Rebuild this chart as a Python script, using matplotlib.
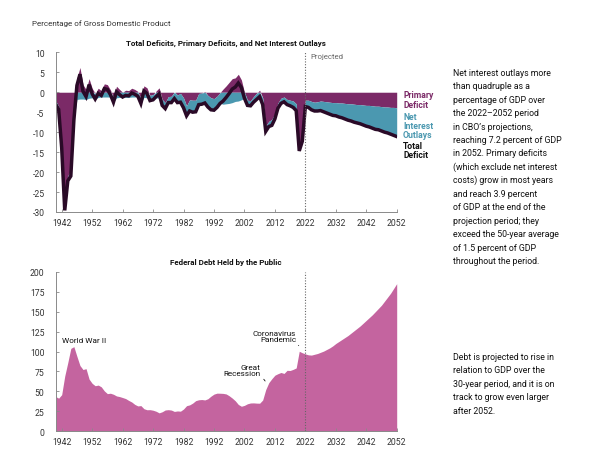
import matplotlib
matplotlib.use("Agg")
import matplotlib.pyplot as plt
import numpy as np

plt.rcParams['font.family'] = ['Roboto', 'DejaVu Sans']

# ---------------- data ----------------
years = list(range(1940, 2053))
total_deficit = [
    -3.0, -4.3, -13.9, -29.6, -22.2, -21.0, -7.0, 1.7, 4.5, 0.2,          # 1940-49
    -1.1, 1.9, -0.4, -1.7, -0.3, -0.8, 0.9, 0.7, -0.6, -2.5,              # 1950-59
    0.1, -0.6, -1.2, -0.8, -0.9, -0.2, -0.5, -1.0, -2.8, 0.3,             # 1960-69
    -0.3, -2.1, -1.9, -1.1, -0.4, -3.3, -4.1, -2.6, -2.6, -1.6,           # 1970-79
    -2.6, -2.5, -3.9, -5.9, -4.7, -5.0, -4.9, -3.1, -3.0, -2.7,           # 1980-89
    -3.7, -4.4, -4.5, -3.8, -2.8, -2.2, -1.3, -0.3, 0.8, 1.3,             # 1990-99
    2.3, 1.2, -1.5, -3.3, -3.4, -2.5, -1.8, -1.1, -3.1, -9.8,             # 2000-09
    -8.6, -8.3, -6.7, -4.0, -2.8, -2.4, -3.1, -3.4, -3.8, -4.6,           # 2010-19
    -14.7, -12.3,                                                         # 2020-21
    -3.6, -3.8, -4.4, -4.7, -4.7, -4.6, -4.9, -5.2, -5.5, -5.8,           # 2022-31
    -5.9, -6.2, -6.4, -6.7, -7.0, -7.2, -7.5, -7.7, -7.9, -8.2,           # 2032-41
    -8.5, -8.7, -9.0, -9.3, -9.4, -9.7, -10.0, -10.2, -10.5, -10.8,       # 2042-51
    -11.1,                                                                # 2052
]
net_interest = [
    0.9, 0.8, 0.7, 0.8, 1.2, 1.4, 1.8, 1.8, 1.7, 1.7,
    1.8, 1.5, 1.4, 1.4, 1.3, 1.2, 1.2, 1.2, 1.2, 1.2,
    1.4, 1.3, 1.2, 1.3, 1.3, 1.2, 1.2, 1.2, 1.2, 1.3,
    1.4, 1.3, 1.3, 1.4, 1.5, 1.5, 1.5, 1.5, 1.6, 1.7,
    1.9, 2.2, 2.5, 2.5, 2.8, 3.0, 2.9, 2.8, 2.8, 2.9,
    2.9, 3.0, 2.9, 2.8, 2.7, 3.0, 2.9, 2.8, 2.6, 2.3,
    2.2, 1.9, 1.5, 1.3, 1.3, 1.4, 1.6, 1.6, 1.7, 1.3,
    1.3, 1.5, 1.4, 1.3, 1.3, 1.2, 1.3, 1.4, 1.6, 1.7,
    1.6, 1.5,
    1.6, 1.8, 2.1, 2.2, 2.3, 2.4, 2.6, 2.8, 3.0, 3.2,
    3.3, 3.5, 3.7, 3.9, 4.1, 4.3, 4.5, 4.6, 4.8, 5.0,
    5.2, 5.4, 5.6, 5.8, 5.9, 6.1, 6.3, 6.5, 6.7, 7.0,
    7.2,
]
debt_held = [
    43.6, 41.5, 45.9, 69.2, 86.0, 103.9, 106.1, 93.9, 82.4, 77.4,
    78.5, 65.4, 60.1, 57.1, 57.9, 55.7, 50.6, 47.2, 47.7, 46.4,
    44.3, 43.5, 42.3, 41.0, 38.7, 36.7, 33.7, 31.8, 32.2, 28.3,
    27.0, 27.1, 26.4, 25.1, 23.1, 24.5, 26.7, 27.1, 26.6, 24.9,
    25.5, 25.2, 27.9, 32.1, 33.1, 35.3, 38.4, 39.5, 39.8, 39.3,
    40.8, 44.0, 46.6, 47.8, 47.7, 47.5, 46.8, 44.5, 41.6, 38.2,
    33.6, 31.4, 32.5, 34.5, 35.5, 35.6, 35.3, 35.2, 39.2, 52.3,
    60.9, 65.9, 70.3, 72.2, 73.7, 72.5, 76.4, 76.2, 77.6, 79.4,
    100.3, 98.4,
    97.0, 95.8, 95.5, 96.5, 97.5, 99.0, 100.5, 102.5, 104.5, 107.0,
    110.0, 112.5, 115.0, 117.5, 120.0, 123.0, 126.0, 129.0, 132.0, 135.5,
    139.0, 142.5, 146.0, 150.0, 154.0, 158.0, 163.0, 168.0, 173.0, 179.0,
    185.0,
]
x_ticks = list(range(1942, 2053, 10))
deficit_yticks = [10, 5, 0, -5, -10, -15, -20, -25, -30]
debt_yticks = [0, 25, 50, 75, 100, 125, 150, 175, 200]
projection_start = 2022

# ---------------- styles ----------------
C_PRIM = '#7B2A67'
C_INT = '#4B98B0'
C_TOT = '#2A0A27'
C_DEBT = '#C4649F'
C_AX = '#8a8a8a'
C_TXT = '#333333'

W, H = 600, 456
fig = plt.figure(figsize=(6, 4.56), dpi=100)

def fx(px):
    return px / W

def fy(py):
    return 1 - py / H

yrs = np.array(years, dtype=float)
tot = np.array(total_deficit)
intr = np.array(net_interest)
prim = tot + intr
prim_neg = np.minimum(prim, 0)

ax_left, ax_right = 55.6, 396.7

def style_axes(ax, yt):
    for s in ['top', 'right']:
        ax.spines[s].set_visible(False)
    for s in ['left', 'bottom']:
        ax.spines[s].set_color(C_AX)
        ax.spines[s].set_linewidth(0.7)
    ax.set_xlim(1940, 2052)
    ax.set_xticks(x_ticks)
    ax.set_yticks(yt)
    ax.tick_params(direction='in', length=2.5, width=0.6, color=C_AX,
                   labelsize=6.2, labelcolor=C_TXT)
    ax.tick_params(axis='y', pad=8)
    ax.tick_params(axis='x', pad=4)
    ax.patch.set_alpha(0)

# ---------------- top chart ----------------
ax1 = fig.add_axes([fx(ax_left), fy(213), fx(ax_right - ax_left), (213 - 53.3) / H])
ax1.fill_between(yrs, 0, prim, color=C_PRIM, linewidth=0)
ax1.fill_between(yrs, prim_neg, prim_neg - intr, color=C_INT, linewidth=0)
ax1.plot(yrs, tot, color=C_TOT, linewidth=2.5, solid_joinstyle='miter')
ax1.axvline(projection_start, color='#666666', linestyle=(0, (1, 1.5)), linewidth=0.8)
ax1.set_ylim(-30, 10)
style_axes(ax1, deficit_yticks)
ax1.set_yticklabels([str(v) for v in deficit_yticks])

# ---------------- bottom chart ----------------
ax2 = fig.add_axes([fx(ax_left), fy(432.3), fx(ax_right - ax_left), (432.3 - 272.7) / H])
ax2.fill_between(yrs, 0, debt_held, color=C_DEBT, linewidth=0)
ax2.axvline(projection_start, color='#666666', linestyle=(0, (1, 1.5)), linewidth=0.8)
ax2.set_ylim(0, 200)
style_axes(ax2, debt_yticks)

# ---------------- texts ----------------
fig.text(fx(31.7), fy(24), 'Percentage of Gross Domestic Product', fontsize=5.8,
         color=C_TXT, va='center', ha='left')
fig.text(fx(226), fy(43), 'Total Deficits, Primary Deficits, and Net Interest Outlays',
         fontsize=5.8, fontweight='bold', color='#111111', va='center', ha='center')
fig.text(fx(226), fy(262), 'Federal Debt Held by the Public',
         fontsize=5.8, fontweight='bold', color='#111111', va='center', ha='center')
fig.text(fx(310), fy(57), 'Projected', fontsize=5.6, color='#666666', va='center', ha='left')

lab_kw = dict(fontsize=6.2, fontweight='bold', va='center', ha='left', linespacing=1.0)
fig.text(fx(403), fy(100.5), 'Primary\nDeficit', color=C_PRIM, **lab_kw)
fig.text(fx(403), fy(126.7), 'Net\nInterest\nOutlays', color=C_INT, **lab_kw)
fig.text(fx(403), fy(151.3), 'Total\nDeficit', color='#111111', **lab_kw)

# annotations on debt chart
ann_fs = 5.9
ax2.text(1942.1, 114.4, 'World War II', fontsize=ann_fs, color='#111111', va='center', ha='left')
ax2.text(2007.3, 77.4, 'Great\nRecession', fontsize=ann_fs, color='#111111', va='center',
         ha='right', linespacing=1.0)
ax2.annotate('', xy=(2008.8, 63), xytext=(2007.8, 68),
             arrowprops=dict(arrowstyle='-', color='#111111', lw=0.6))
ax2.text(2019.0, 120, 'Coronavirus\nPandemic', fontsize=ann_fs, color='#111111', va='center',
         ha='right', linespacing=1.0)
ax2.annotate('', xy=(2020.3, 104.4), xytext=(2019.3, 110.7),
             arrowprops=dict(arrowstyle='-', color='#111111', lw=0.6))

block1 = [
    'Net interest outlays more',
    'than quadruple as a',
    'percentage of GDP over',
    'the 2022\u20132052 period',
    'in CBO\u2019s projections,',
    'reaching 7.2 percent of GDP',
    'in 2052. Primary deficits',
    '(which exclude net interest',
    'costs) grow in most years',
    'and reach 3.9 percent',
    'of GDP at the end of the',
    'projection period; they',
    'exceed the 50-year average',
    'of 1.5 percent of GDP',
    'throughout the period.',
]
block2 = [
    'Debt is projected to rise in',
    'relation to GDP over the',
    '30-year period, and it is on',
    'track to grow even larger',
    'after 2052.',
]
for i, line in enumerate(block1):
    fig.text(fx(452.7), fy(75.7 + i * 13.45), line, fontsize=6.3, color='#111111',
             va='baseline', ha='left')
for i, line in enumerate(block2):
    fig.text(fx(452.7), fy(360 + i * 13.45), line, fontsize=6.3, color='#111111',
             va='baseline', ha='left')

fig.savefig('out.png', dpi=100)
